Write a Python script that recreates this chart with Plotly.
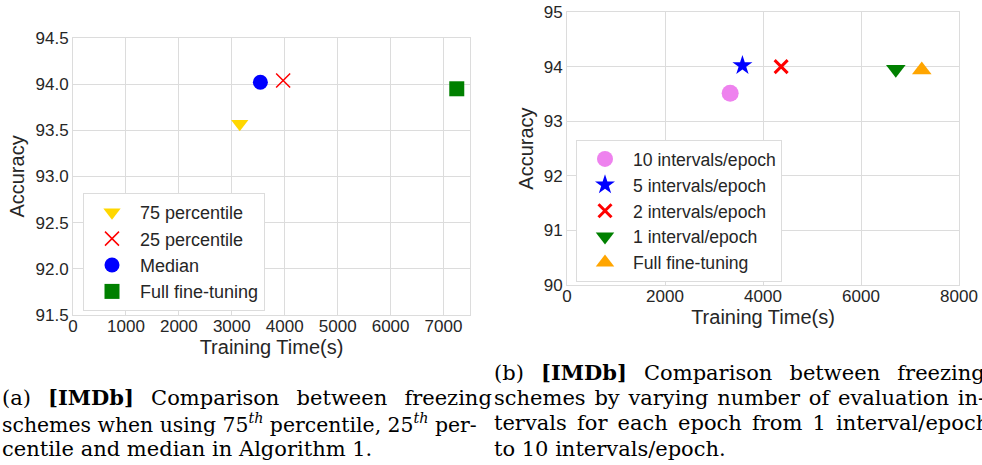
import plotly.graph_objects as go

# ---- data: left panel (a) ----
a_names = ["75 percentile", "25 percentile", "Median", "Full fine-tuning"]
a_time = [3150, 3970, 3540, 7250]
a_acc = [93.57, 94.04, 94.02, 93.95]
a_symbols = ["triangle-down", "x-thin", "circle", "square"]
a_colors = ["#FFD700", "red", "blue", "green"]

# ---- data: right panel (b) ----
b_names = ["10 intervals/epoch", "5 intervals/epoch", "2 intervals/epoch",
           "1 interval/epoch", "Full fine-tuning"]
b_time = [3330, 3580, 4370, 6710, 7240]
b_acc = [93.51, 94.02, 94.00, 93.95, 93.94]
b_symbols = ["circle", "star", "x-thin", "triangle-down", "triangle-up"]
b_colors = ["violet", "blue", "red", "green", "orange"]

a_xticks = [0, 1000, 2000, 3000, 4000, 5000, 6000, 7000]
a_yticks = [91.5, 92.0, 92.5, 93.0, 93.5, 94.0, 94.5]
b_xticks = [0, 2000, 4000, 6000, 8000]
b_yticks = [90, 91, 92, 93, 94, 95]

cap_a = ["(a) <b>[IMDb]</b> Comparison between freezing",
         "schemes when using 75<sup><i>th</i></sup> percentile, 25<sup><i>th</i></sup> per-",
         "centile and median in Algorithm 1."]
cap_b = ["(b) <b>[IMDb]</b> Comparison between freezing",
         "schemes by varying number of evaluation in-",
         "tervals for each epoch from 1 interval/epoch",
         "to 10 intervals/epoch."]
# extra inter-word space per caption line (justified text)
cap_a_gap = ["\u2002", "", ""]
cap_a_size = [21, 20.4, 21]
cap_b_gap = ["\u2002", "\u200a", "\u2006", ""]

W, H = 982, 465
fig = go.Figure()

for n, x, y, s, c in zip(a_names, a_time, a_acc, a_symbols, a_colors):
    thin = s == "x-thin"
    fig.add_trace(go.Scatter(
        x=[x], y=[y], mode="markers", name=n, legend="legend",
        xaxis="x", yaxis="y", cliponaxis=False,
        marker=dict(symbol=s, size=15 if not thin else 14, color=c,
                    line=dict(color=c, width=1.5 if thin else 0))))

for n, x, y, s, c in zip(b_names, b_time, b_acc, b_symbols, b_colors):
    thin = s == "x-thin"
    size = 13 if thin else (15 if s == "star" else 17)
    fig.add_trace(go.Scatter(
        x=[x], y=[y], mode="markers", name=n, legend="legend2",
        xaxis="x2", yaxis="y2", cliponaxis=False,
        marker=dict(symbol=s, size=size, color=c,
                    line=dict(color=c, width=3 if thin else 0))))

grid = "#dcdcdc"
tickfont = dict(family="Liberation Sans, Arial", size=17, color="#262626")
titlefont = dict(family="Liberation Sans, Arial", size=20, color="#262626")
axcommon = dict(showgrid=True, gridcolor=grid, gridwidth=1, zeroline=False,
                showline=True, linecolor=grid, linewidth=1, mirror=True,
                ticks="", tickfont=tickfont, automargin=False)

legfont = dict(family="Liberation Sans, Arial", size=18, color="#262626")
fig.update_layout(
    width=W, height=H, margin=dict(l=0, r=0, t=0, b=0, autoexpand=False),
    paper_bgcolor="white", plot_bgcolor="white",
    xaxis=dict(domain=[73 / W, 470 / W], range=[0, 7500], tickvals=a_xticks,
               ticklabelstandoff=-4,
               title=dict(text="Training Time(s)", font=titlefont, standoff=1),
               anchor="y", **axcommon),
    yaxis=dict(domain=[1 - 315 / H, 1 - 38 / H], range=[91.5, 94.5], tickvals=a_yticks,
               tickformat=".1f",
               title=dict(text="Accuracy", font=titlefont, standoff=5),
               anchor="x", **axcommon),
    xaxis2=dict(domain=[567 / W, 959 / W], range=[0, 8000], tickvals=b_xticks,
                ticklabelstandoff=-4,
                title=dict(text="Training Time(s)", font=titlefont, standoff=4),
                anchor="y2", **axcommon),
    yaxis2=dict(domain=[1 - 285 / H, 1 - 12 / H], range=[90, 95], tickvals=b_yticks,
                title=dict(text="Accuracy", font=titlefont, standoff=4),
                anchor="x2", **axcommon),
    legend=dict(x=83 / W, y=1 - 193 / H, xanchor="left", yanchor="top",
                bgcolor="white", bordercolor=grid, borderwidth=1,
                font=legfont, tracegroupgap=0, itemwidth=46),
    legend2=dict(x=576 / W, y=1 - 140 / H, xanchor="left", yanchor="top",
                 bgcolor="white", bordercolor=grid, borderwidth=1,
                 font=dict(family="Liberation Sans, Arial", size=17.6, color="#262626"),
                 tracegroupgap=0, itemwidth=46),
    showlegend=True,
)

for i, (t, g, sz) in enumerate(zip(cap_a, cap_a_gap, cap_a_size)):
    yc = 397 + 26 * i
    fig.add_annotation(text=t.replace(" ", " " + g) if g else t,
                       x=0, y=1 - yc / H, xref="paper", yref="paper",
                       xanchor="left", yanchor="middle", showarrow=False,
                       font=dict(family="DejaVu Serif", size=sz, color="black"))
for i, (t, g) in enumerate(zip(cap_b, cap_b_gap)):
    yc = 372 + 25.5 * i
    fig.add_annotation(text=t.replace(" ", " " + g) if g else t,
                       x=492 / W, y=1 - yc / H, xref="paper", yref="paper",
                       xanchor="left", yanchor="middle", showarrow=False,
                       font=dict(family="DejaVu Serif", size=21, color="black"))

fig.write_html("out.html", config={"displayModeBar": False},
               post_script="document.body.style.margin='0';")
